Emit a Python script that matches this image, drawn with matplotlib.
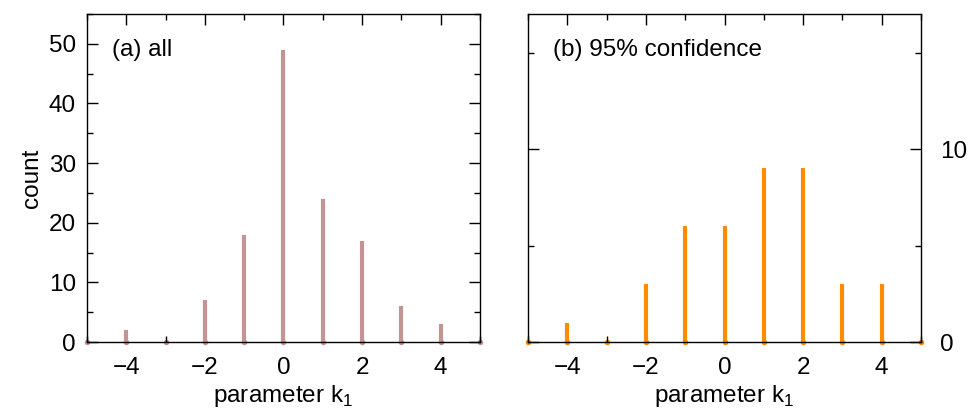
import matplotlib
matplotlib.use('Agg')
import matplotlib.pyplot as plt
from matplotlib.ticker import MultipleLocator

plt.rcParams['font.family'] = ['Liberation Sans', 'DejaVu Sans']

# 데이터
k1 = [-5, -4, -3, -2, -1, 0, 1, 2, 3, 4, 5]
count_all = [0, 2, 0, 7, 18, 49, 24, 17, 6, 3, 0]
count_conf = [0, 1, 0, 3, 6, 6, 9, 9, 3, 3, 0]

FS = 17.5

fig = plt.figure(figsize=(9.76, 4.09), dpi=100)
ax1 = fig.add_axes([0.0891, 0.1638, 0.4027, 0.802])
ax2 = fig.add_axes([0.541, 0.1638, 0.4027, 0.802])


def style_axis(ax):
    ax.set_xlim(-5, 5)
    ax.xaxis.set_minor_locator(MultipleLocator(1))
    ax.tick_params(which='both', direction='in', top=True, right=True,
                   labelsize=FS, width=1)
    ax.tick_params(which='major', length=8)
    ax.tick_params(axis='x', which='major', pad=11)
    ax.tick_params(axis='y', which='major', pad=8)
    ax.tick_params(which='minor', length=4)
    ax.set_xticks([-4, -2, 0, 2, 4])
    ax.set_xticklabels(['\u22124', '\u22122', '0', '2', '4'])
    ax.set_xlabel('parameter k$_{\\mathregular{1}}$', fontsize=FS, labelpad=3)
    for s in ax.spines.values():
        s.set_linewidth(1)


def draw_bars(ax, values, color):
    lc = ax.vlines(k1, 0, values, color=color, linewidth=3)
    lc.set_clip_on(False)
    # 0인 칸도 작은 점으로 보이게
    ax.plot(k1, [0] * len(k1), 'o', color=color, markersize=3,
            clip_on=False, zorder=1)


# (a) 전체
draw_bars(ax1, count_all, '#C49494')
style_axis(ax1)
ax1.set_ylim(0, 55)
ax1.yaxis.set_major_locator(MultipleLocator(10))
ax1.yaxis.set_minor_locator(MultipleLocator(5))
ax1.set_ylabel('count', fontsize=FS, labelpad=4)
ax1.text(0.064, 0.89, '(a) all', transform=ax1.transAxes, fontsize=FS,
         ha='left', va='center')

# (b) 95% 신뢰
draw_bars(ax2, count_conf, '#FF8C00')
style_axis(ax2)
ax2.set_ylim(0, 17)
ax2.yaxis.set_major_locator(MultipleLocator(10))
ax2.yaxis.set_minor_locator(MultipleLocator(5))
ax2.tick_params(axis='y', which='both', labelleft=False, labelright=True,
                pad=14)
ax2.text(0.064, 0.89, '(b) 95% confidence', transform=ax2.transAxes,
         fontsize=FS, ha='left', va='center')

fig.savefig('out.png', dpi=100)
plt.close()
